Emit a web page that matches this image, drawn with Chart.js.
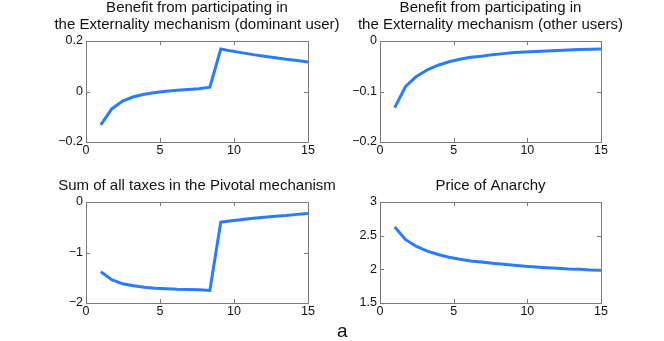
<!DOCTYPE html>
<html>
<head>
<meta charset="utf-8">
<script src="https://cdn.jsdelivr.net/npm/chart.js@4.4.1/dist/chart.umd.min.js"></script>
<style>
    html, body { margin: 0; padding: 0; background: #fff; }
    body { width: 664px; height: 341px; position: relative; overflow: hidden; }
    canvas { position: absolute; }
    #caption { position: absolute; left: 337px; top: 319px; font: 19px "Liberation Sans", Arial, sans-serif; line-height: 24px; color: #111; }
</style>
</head>
<body>
<canvas id="plotTL"></canvas>
<canvas id="plotTR"></canvas>
<canvas id="plotBL"></canvas>
<canvas id="plotBR"></canvas>
<div id="caption">a</div>
<script>
(function () {
    "use strict";

    // number of users, 20 samples from 1 to 15
    const xValues = [1, 1.7368, 2.4737, 3.2105, 3.9474, 4.6842, 5.4211, 6.1579, 6.8947, 7.6316,
        8.3684, 9.1053, 9.8421, 10.5789, 11.3158, 12.0526, 12.7895, 13.5263, 14.2632, 15];

    const benefitDominant = [-0.132, -0.069, -0.038, -0.021, -0.011, -0.004, 0.001, 0.005, 0.008, 0.011,
        0.017, 0.168, 0.160, 0.153, 0.146, 0.140, 0.134, 0.128, 0.123, 0.117];
    const benefitOthers = [-0.132, -0.090, -0.070, -0.057, -0.048, -0.041, -0.036, -0.032, -0.030, -0.027,
        -0.025, -0.023, -0.022, -0.021, -0.020, -0.019, -0.018, -0.017, -0.0165, -0.016];
    const pivotalTaxes = [-1.38, -1.54, -1.62, -1.66, -1.69, -1.71, -1.72, -1.73, -1.735, -1.74,
        -1.75, -0.40, -0.37, -0.345, -0.32, -0.30, -0.28, -0.265, -0.245, -0.23];
    const priceOfAnarchy = [2.63, 2.44, 2.34, 2.27, 2.22, 2.18, 2.15, 2.125, 2.11, 2.09,
        2.075, 2.06, 2.045, 2.035, 2.025, 2.015, 2.005, 2.0, 1.99, 1.985];

    const xTicks = [0, 5, 10, 15];

    const lineColor = '#2a7bff';
    const boxColor = '#7a7a7a';
    const fontFamily = '"Liberation Sans", Arial, Helvetica, sans-serif';

    // matlab style box with inward ticks
    const boxPlugin = {
        id: 'matlabBox',
        afterDraw(chart) {
            const ctx = chart.ctx;
            const a = chart.chartArea;
            const xs = chart.scales.x;
            const ys = chart.scales.y;
            const len = 4;
            ctx.save();
            ctx.strokeStyle = boxColor;
            ctx.lineWidth = 1;
            ctx.beginPath();
            ctx.rect(Math.round(a.left) + 0.5, Math.round(a.top) + 0.5,
                Math.round(a.right - a.left), Math.round(a.bottom - a.top));
            xs.ticks.forEach(t => {
                const px = Math.round(xs.getPixelForValue(t.value)) + 0.5;
                ctx.moveTo(px, a.bottom); ctx.lineTo(px, a.bottom - len);
                ctx.moveTo(px, a.top); ctx.lineTo(px, a.top + len);
            });
            ys.ticks.forEach(t => {
                const py = Math.round(ys.getPixelForValue(t.value)) + 0.5;
                ctx.moveTo(a.left, py); ctx.lineTo(a.left + len, py);
                ctx.moveTo(a.right, py); ctx.lineTo(a.right - len, py);
            });
            ctx.stroke();
            ctx.restore();
        }
    };

    function fmt(v) {
        const r = Math.round(v * 1000) / 1000;
        if (r === 0) return '0';
        return (r < 0 ? '\u2212' : '') + String(Math.abs(r));
    }

    function makePanel(elId, pos, titleLines, values, yMin, yMax, yStep) {
        const el = document.getElementById(elId);
        el.style.left = pos.left + 'px';
        el.style.top = pos.top + 'px';
        el.style.width = pos.width + 'px';
        el.style.height = pos.height + 'px';
        el.width = pos.width;
        el.height = pos.height;

        new Chart(el.getContext('2d'), {
            type: 'line',
            data: {
                datasets: [{
                    data: xValues.map((x, i) => ({ x: x, y: values[i] })),
                    borderColor: lineColor,
                    borderWidth: 3,
                    pointRadius: 0,
                    fill: false,
                    tension: 0
                }]
            },
            options: {
                responsive: false,
                animation: false,
                layout: { padding: 0 },
                plugins: {
                    legend: { display: false },
                    tooltip: { enabled: false },
                    title: {
                        display: true,
                        text: titleLines,
                        color: '#111',
                        font: { family: fontFamily, size: 15, weight: 'normal', lineHeight: 1.1 },
                        padding: { top: 0, bottom: pos.titlePad }
                    }
                },
                scales: {
                    x: {
                        type: 'linear',
                        min: 0,
                        max: 15,
                        afterBuildTicks: s => { s.ticks = xTicks.map(v => ({ value: v })); },
                        afterFit: s => { s.height = 18; },
                        grid: { display: false, drawTicks: false },
                        border: { display: false },
                        ticks: { color: '#111', padding: 1, font: { family: fontFamily, size: 12.5 }, maxRotation: 0 }
                    },
                    y: {
                        min: yMin,
                        max: yMax,
                        afterFit: s => { s.width = 50; },
                        grid: { display: false, drawTicks: false },
                        border: { display: false },
                        ticks: {
                            stepSize: yStep,
                            color: '#111',
                            padding: 3,
                            font: { family: fontFamily, size: 12.5 },
                            callback: v => fmt(v)
                        }
                    },
                    // empty right margin so the title centres over the axes
                    yRight: {
                        position: 'right',
                        min: yMin,
                        max: yMax,
                        afterFit: s => { s.width = 50; },
                        grid: { display: false, drawTicks: false },
                        border: { display: false },
                        ticks: { display: false }
                    }
                }
            },
            plugins: [boxPlugin]
        });
    }

    const topRow = { top: 0, height: 160, titlePad: 8 };
    const bottomRow = { top: 178, height: 143, titlePad: 7.5 };

    makePanel('plotTL', Object.assign({ left: 36, width: 322 }, topRow),
        ['Benefit from participating in', 'the Externality mechanism (dominant user)'],
        benefitDominant, -0.2, 0.2, 0.2);
    makePanel('plotTR', Object.assign({ left: 330, width: 321 }, topRow),
        ['Benefit from participating in', 'the Externality mechanism (other users)'],
        benefitOthers, -0.2, 0, 0.1);
    makePanel('plotBL', Object.assign({ left: 36, width: 322 }, bottomRow),
        'Sum of all taxes in the Pivotal mechanism',
        pivotalTaxes, -2, 0, 1);
    makePanel('plotBR', Object.assign({ left: 330, width: 321 }, bottomRow),
        'Price of Anarchy',
        priceOfAnarchy, 1.5, 3, 0.5);
})();
</script>
</body>
</html>
